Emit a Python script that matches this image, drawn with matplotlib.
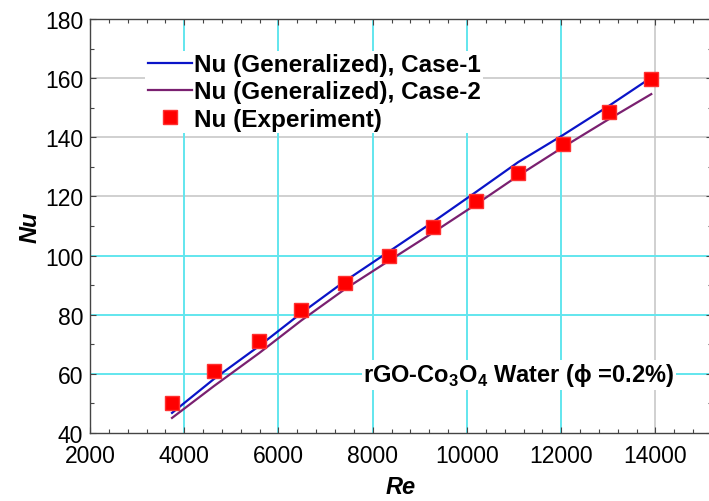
import matplotlib
matplotlib.use("Agg")
import matplotlib.pyplot as plt
from matplotlib.ticker import MultipleLocator

plt.rcParams['font.family'] = ['Liberation Sans', 'DejaVu Sans']
plt.rcParams['mathtext.fontset'] = 'custom'
plt.rcParams['mathtext.rm'] = 'Liberation Sans'
plt.rcParams['mathtext.bf'] = 'Liberation Sans:bold'

re_exp = [3741, 4633, 5588, 6480, 7414, 8340, 9282, 10200, 11087, 12042, 13019, 13911]
nu_exp = [50.1, 60.8, 71.1, 81.6, 90.7, 99.9, 109.7, 118.5, 127.9, 137.6, 148.5, 159.7]
nu_case1 = [46.8, 58.3, 69.4, 80.5, 91.4, 101.3, 111.4, 121.6, 131.6, 140.8, 150.7, 160.2]
nu_case2 = [45.1, 55.9, 67.0, 78.0, 88.7, 98.2, 107.8, 117.4, 127.0, 136.7, 146.2, 154.6]

x_cyan = [4000, 6000, 8000, 10000, 12000]
x_grey = [14000]
y_cyan = [60, 80, 100]
y_grey = [120, 140, 160]

fig = plt.figure(figsize=(7.09, 5.02), dpi=100)
ax = fig.add_axes([90/709, (502-434)/502, 622/709, 414/502])
ax.set_xlim(2000, 15200)
ax.set_ylim(40, 180)

for v in y_grey:
    ax.axhline(v, color='#c8c8c8', lw=1.2, zorder=0)
for v in y_cyan:
    ax.axhline(v, color='#62e6ee', lw=1.4, zorder=0.5)
for v in x_grey:
    ax.axvline(v, color='#c8c8c8', lw=1.2, zorder=0)
for v in x_cyan:
    ax.axvline(v, color='#62e6ee', lw=1.4, zorder=0.5)

ax.plot(re_exp, nu_case1, color='#0a14c8', lw=1.6, label='Nu (Generalized), Case-1', zorder=2)
ax.plot(re_exp, nu_case2, color='#7a2070', lw=1.6, label='Nu (Generalized), Case-2', zorder=2)
ax.plot(re_exp, nu_exp, ls='none', marker='s', ms=9.5, color='#ff0000',
        mec='#ff3030', label='Nu (Experiment)', zorder=3)

ax.set_xticks([2000, 4000, 6000, 8000, 10000, 12000, 14000])
ax.set_yticks([40, 60, 80, 100, 120, 140, 160, 180])
ax.xaxis.set_minor_locator(MultipleLocator(400))
ax.yaxis.set_minor_locator(MultipleLocator(10))
ax.tick_params(which='both', direction='in', top=True, right=True, color='#444444')
ax.tick_params(which='major', length=4, labelsize=16.5, width=0.8)
ax.tick_params(which='minor', length=3, width=0.8)
ax.tick_params(axis='x', pad=8)
ax.tick_params(axis='y', pad=5)
for s in ax.spines.values():
    s.set_color('#444444')
    s.set_linewidth(1.0)

ax.set_xlabel('Re', fontsize=17, fontweight='bold', fontstyle='italic', labelpad=6)
ax.set_ylabel('Nu', fontsize=17, fontweight='bold', fontstyle='italic', labelpad=2)

leg = ax.legend(loc='upper left', bbox_to_anchor=(0.069, 0.953), fontsize=17.5,
                frameon=True, facecolor='white', edgecolor='none', framealpha=1,
                handlelength=1.85, handletextpad=0.05, labelspacing=0.18,
                borderpad=0.1)
for t in leg.get_texts():
    t.set_fontweight('bold')

ax.text(363, 502 - 376, r'rGO-Co$_\mathbf{3}$O$_\mathbf{4}$ Water (ϕ =0.2%)',
        transform=None, fontsize=17, fontweight='bold', va='center', ha='left',
        bbox=dict(facecolor='white', edgecolor='none', pad=1), zorder=4)

fig.savefig('out.png', dpi=100)
